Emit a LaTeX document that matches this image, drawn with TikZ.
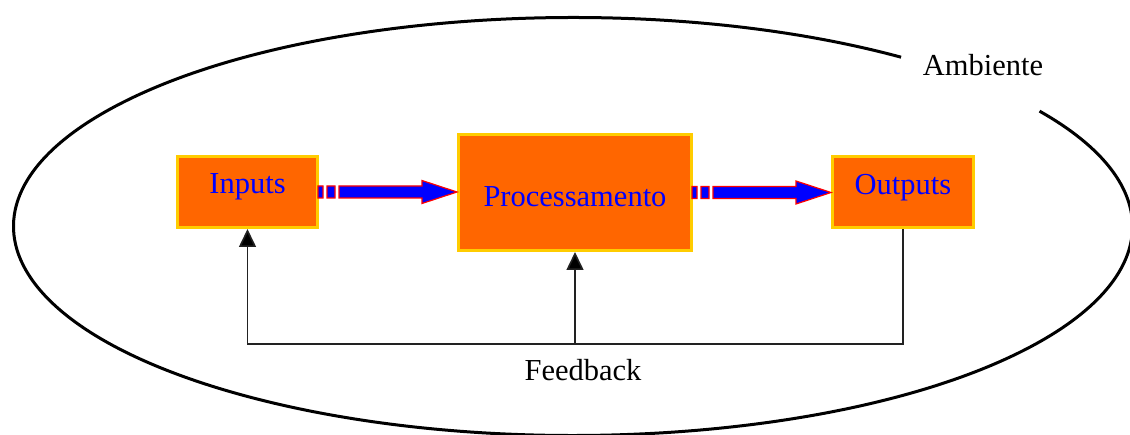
\documentclass[tikz,border=0pt]{standalone}
\usepackage{fontspec}
\setmainfont{Liberation Serif}
\usetikzlibrary{arrows.meta,calc}
\definecolor{boxfill}{HTML}{FF6600}
\definecolor{boxline}{HTML}{FFCC00}
\definecolor{fbline}{HTML}{222222}
\begin{document}
\begin{tikzpicture}[x=1pt,y=1pt,
  box/.style={rectangle, draw=boxline, fill=boxfill, line width=3pt, text=blue,
    font=\fontsize{30.5}{36}\selectfont, inner sep=0pt},
  lbl/.style={font=\fontsize{30.5}{36}\selectfont, text=black, inner sep=0pt, anchor=base},
  barrow/.style={draw=red, fill=blue, line width=1.2pt},
  fb/.style={draw=fbline, line width=1.6pt},
  fbtip/.style={-{Triangle[length=18pt,width=17pt,fill=black]}}
]
\useasboundingbox (0,0) rectangle (1130,434);
% environment ellipse (open at the label)
\draw[line width=3pt] (573,207.5) ++(54.1:559.5 and 209)
  arc[start angle=54.1, end angle=393.5, x radius=559.5, y radius=209];
\node[lbl] (amb) at (983,358) {Ambiente};

% boxes
\node[box, minimum width=140pt, minimum height=71pt, text height=14pt, text depth=10pt]
  (in) at (247.5,242) {Inputs};
\node[box, minimum width=233pt, minimum height=116pt, text height=29pt, text depth=0pt]
  (proc) at (575,241.5) {Processamento};
\node[box, minimum width=141pt, minimum height=71pt, text height=15pt, text depth=10pt]
  (out) at (903,242) {Outputs};

% block arrows
\path[barrow] let \p1=(in.east), \p2=(proc.west) in
  (\x1-1pt,\y1-6pt) rectangle (\x1+4pt,\y1+6pt)
  (\x1+8pt,\y1-6pt) rectangle (\x1+16pt,\y1+6pt)
  (\x1+20pt,\y1-6pt) -- (\x2-35pt,\y1-6pt) -- (\x2-35pt,\y1-11.5pt) -- (\x2,\y1)
  -- (\x2-35pt,\y1+11.5pt) -- (\x2-35pt,\y1+6pt) -- (\x1+20pt,\y1+6pt) -- cycle;
\path[barrow] let \p1=(proc.east), \p2=(out.west) in
  (\x1-1pt,\y1-6pt) rectangle (\x1+4pt,\y1+6pt)
  (\x1+8pt,\y1-6pt) rectangle (\x1+16pt,\y1+6pt)
  (\x1+20pt,\y1-6pt) -- (\x2-35pt,\y1-6pt) -- (\x2-35pt,\y1-11.5pt) -- (\x2,\y1)
  -- (\x2-35pt,\y1+11.5pt) -- (\x2-35pt,\y1+6pt) -- (\x1+20pt,\y1+6pt) -- cycle;

% feedback loop
\coordinate (fbl) at (575,90);
\draw[fb, fbtip] (out.south) -- (out.south |- fbl) -| (in.south);
\draw[fb, fbtip] (proc.south |- fbl) -- (proc.south);
\node[lbl] (fbtext) at (583,54) {Feedback};
\end{tikzpicture}
\end{document}
